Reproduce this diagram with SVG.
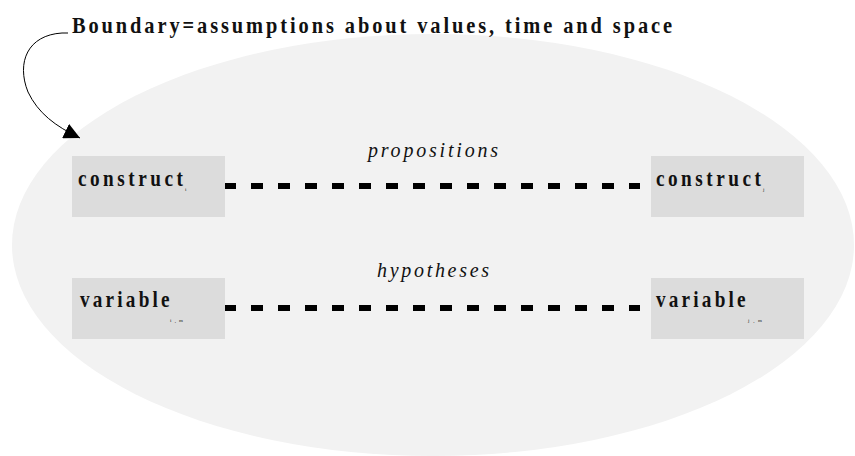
<svg xmlns="http://www.w3.org/2000/svg" width="855" height="456" viewBox="0 0 855 456">
<style>
.box{fill:#dcdcdc}
.lbl{font-family:"Liberation Serif",serif;font-weight:bold;font-size:24px;fill:#111}
.sub{font-family:"Liberation Serif",serif;font-size:5px;fill:#111}
.rel{font-family:"Liberation Serif",serif;font-style:italic;font-size:20px;fill:#111}
.dash{stroke:#000;stroke-width:6;stroke-dasharray:12 15;fill:none}
</style>
<defs>
<marker id="ah" markerWidth="18" markerHeight="16" refX="16" refY="8" orient="auto" markerUnits="userSpaceOnUse">
<path d="M0,0 L16,8 L0,16 Z" fill="#000"/>
</marker>
</defs>
<rect width="855" height="456" fill="#fff"/>
<ellipse id="boundary" cx="433" cy="245" rx="421" ry="211" fill="#f2f2f2"/>
<g id="title">
<text transform="translate(72,33) scale(0.85,1)" x="0" y="0" class="lbl" font-size="22" textLength="706" lengthAdjust="spacing">Boundary=assumptions about values, time and space</text>
</g>
<g id="connectors">
<path d="M68,33 L62,33 C28,35 16,62 28,92 C38,113 55,126 80,138" fill="none" stroke="#000" stroke-width="1" marker-end="url(#ah)"/>
<line class="dash" x1="224" y1="186" x2="640" y2="186"/>
<line class="dash" x1="224" y1="308" x2="640" y2="308"/>
<text x="433" y="157" class="rel" text-anchor="middle" textLength="130" lengthAdjust="spacing">propositions</text>
<text x="433" y="277" class="rel" text-anchor="middle" textLength="112" lengthAdjust="spacing">hypotheses</text>
</g>
<g id="construct_i">
<rect class="box" x="72" y="156" width="153" height="61"/>
<text transform="translate(78,186) scale(0.8,1)" x="0" y="0" class="lbl" textLength="131" lengthAdjust="spacing">construct</text>
<text x="185" y="191" class="sub">i</text>
</g>
<g id="construct_j">
<rect class="box" x="651" y="156" width="153" height="61"/>
<text transform="translate(656,186) scale(0.8,1)" x="0" y="0" class="lbl" textLength="131" lengthAdjust="spacing">construct</text>
<text x="763" y="191" class="sub">j</text>
</g>
<g id="variable_im">
<rect class="box" x="72" y="278" width="153" height="61"/>
<text transform="translate(80,307) scale(0.8,1)" x="0" y="0" class="lbl" textLength="112" lengthAdjust="spacing">variable</text>
<text x="170" y="322" class="sub" textLength="13" lengthAdjust="spacing">i,m</text>
</g>
<g id="variable_jm">
<rect class="box" x="651" y="278" width="153" height="61"/>
<text transform="translate(656,307) scale(0.8,1)" x="0" y="0" class="lbl" textLength="112" lengthAdjust="spacing">variable</text>
<text x="748" y="322" class="sub" textLength="14" lengthAdjust="spacing">j,m</text>
</g>
</svg>
